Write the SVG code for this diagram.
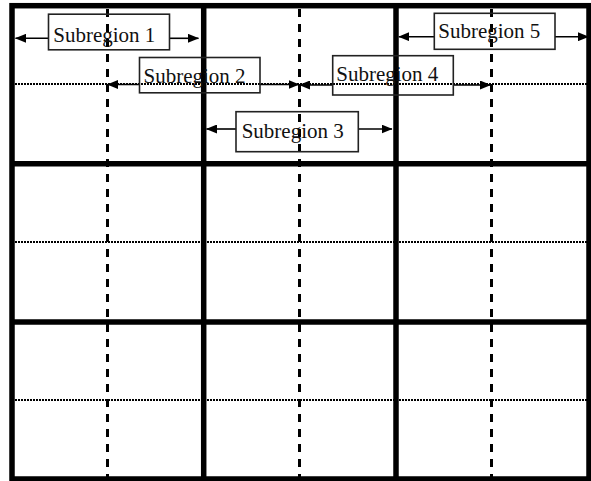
<svg xmlns="http://www.w3.org/2000/svg" width="591" height="481" viewBox="0 0 591 481">
<style>
.thick{stroke:#000;stroke-width:5.5;fill:none}
.dash{stroke:#000;stroke-width:3;stroke-dasharray:8 7;fill:none}
.dot{stroke:#000;stroke-width:2;stroke-dasharray:2 1;fill:none}
.box{fill:none;stroke:#222;stroke-width:1.6}
.lbl{font-family:"Liberation Serif","Times New Roman",serif;font-size:21px;fill:#111}
.arr{stroke:#000;stroke-width:1.6;fill:none;marker-end:url(#ah)}
</style>
<defs>
<marker id="ah" markerUnits="userSpaceOnUse" markerWidth="11" markerHeight="9" refX="10.5" refY="4.5" orient="auto">
<path d="M0,0 L11,4.5 L0,9 z" fill="#000"/>
</marker>
</defs>
<rect width="591" height="481" fill="#fff"/>
<g id="grid">
<line class="dot" x1="15" y1="84" x2="587" y2="84"/>
<line class="dot" x1="15" y1="242" x2="587" y2="242"/>
<line class="dot" x1="15" y1="400" x2="587" y2="400"/>
<line class="dash" x1="107.5" y1="9" x2="107.5" y2="477"/>
<line class="dash" x1="299.5" y1="9" x2="299.5" y2="477"/>
<line class="dash" x1="491.5" y1="9" x2="491.5" y2="477"/>
<rect class="thick" x="12" y="5.7" width="577" height="473.3"/>
<line class="thick" x1="203.7" y1="5" x2="203.7" y2="479"/>
<line class="thick" x1="396" y1="5" x2="396" y2="479"/>
<line class="thick" x1="12" y1="163.7" x2="589" y2="163.7"/>
<line class="thick" x1="12" y1="322" x2="589" y2="322"/>
</g>
<g id="connectors">
<line class="arr" x1="48.5" y1="38.3" x2="15.5" y2="38.3"/>
<line class="arr" x1="169.5" y1="38.3" x2="198.5" y2="38.3"/>
<line class="arr" x1="139.5" y1="84.5" x2="107.5" y2="84.5"/>
<line class="arr" x1="260" y1="84.5" x2="299" y2="84.5"/>
<line class="arr" x1="236" y1="129" x2="206.5" y2="129"/>
<line class="arr" x1="358.3" y1="129" x2="392" y2="129"/>
<line class="arr" x1="332.7" y1="85" x2="299.5" y2="85"/>
<line class="arr" x1="453.3" y1="85" x2="490.5" y2="85"/>
<line class="arr" x1="434.3" y1="36.7" x2="398.8" y2="36.7"/>
<line class="arr" x1="555" y1="36.7" x2="588.5" y2="36.7"/>
</g>
<g id="subregion1">
<rect class="box" x="48.5" y="14.2" width="121" height="35.6"/>
<text class="lbl" x="53.3" y="41.5">Subregion 1</text>
</g>
<g id="subregion2">
<rect class="box" x="139.5" y="57.5" width="120.5" height="35.3"/>
<text class="lbl" x="143.5" y="83">Subregion 2</text>
</g>
<g id="subregion3">
<rect class="box" x="236" y="111.7" width="122.3" height="40"/>
<text class="lbl" x="241.7" y="137.5">Subregion 3</text>
</g>
<g id="subregion4">
<rect class="box" x="332.7" y="55.7" width="120.6" height="39.3"/>
<text class="lbl" x="336.3" y="81">Subregion 4</text>
</g>
<g id="subregion5">
<rect class="box" x="434.3" y="13.3" width="120.7" height="36"/>
<text class="lbl" x="438.3" y="38.3">Subregion 5</text>
</g>
</svg>
